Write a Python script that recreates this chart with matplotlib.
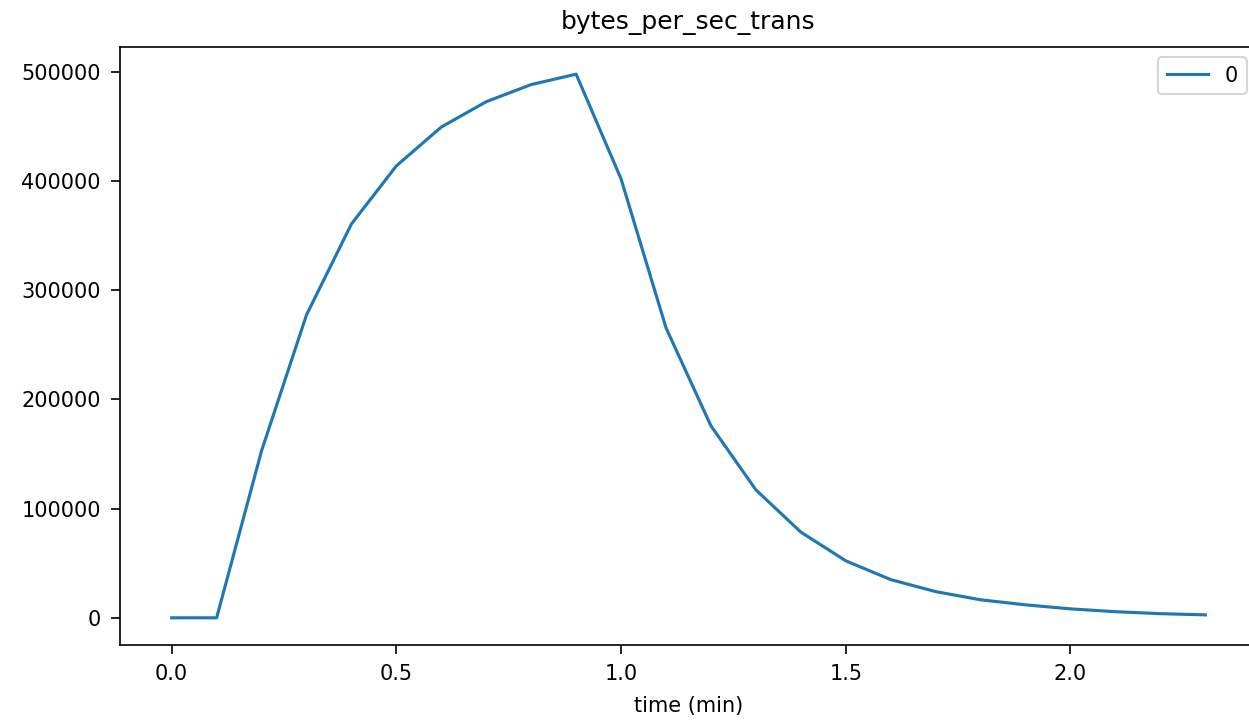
import matplotlib
matplotlib.use("Agg")
import matplotlib.pyplot as plt

time_min = [0.0, 0.1, 0.2, 0.3, 0.4, 0.5, 0.6, 0.7, 0.8, 0.9, 1.0, 1.1,
            1.2, 1.3, 1.4, 1.5, 1.6, 1.7, 1.8, 1.9, 2.0, 2.1, 2.2, 2.3]
bytes_per_sec = [0, 0, 153000, 277500, 360800, 414000, 449600, 472800,
                 488500, 498000, 402000, 265600, 175800, 117200, 78500,
                 52200, 35000, 24000, 16500, 11900, 8200, 5600, 3800, 2700]
series_label = "0"
title = "bytes_per_sec_trans"
xlabel = "time (min)"

DPI = 150
W, H = 1249, 721
fig = plt.figure(figsize=(W / DPI, H / DPI), dpi=DPI)
ax = fig.add_axes([120 / W, 1 - 645 / H, 1137 / W, (645 - 47) / H])
ax.plot(time_min, bytes_per_sec, color="#1f77b4", linewidth=1.5, label=series_label)
ax.tick_params(length=4.2, pad=5)
ax.set_title(title, pad=8.5)
ax.set_xlabel(xlabel, labelpad=5.5)
ax.legend(loc="upper right")
fig.savefig("out.png", dpi=DPI)
